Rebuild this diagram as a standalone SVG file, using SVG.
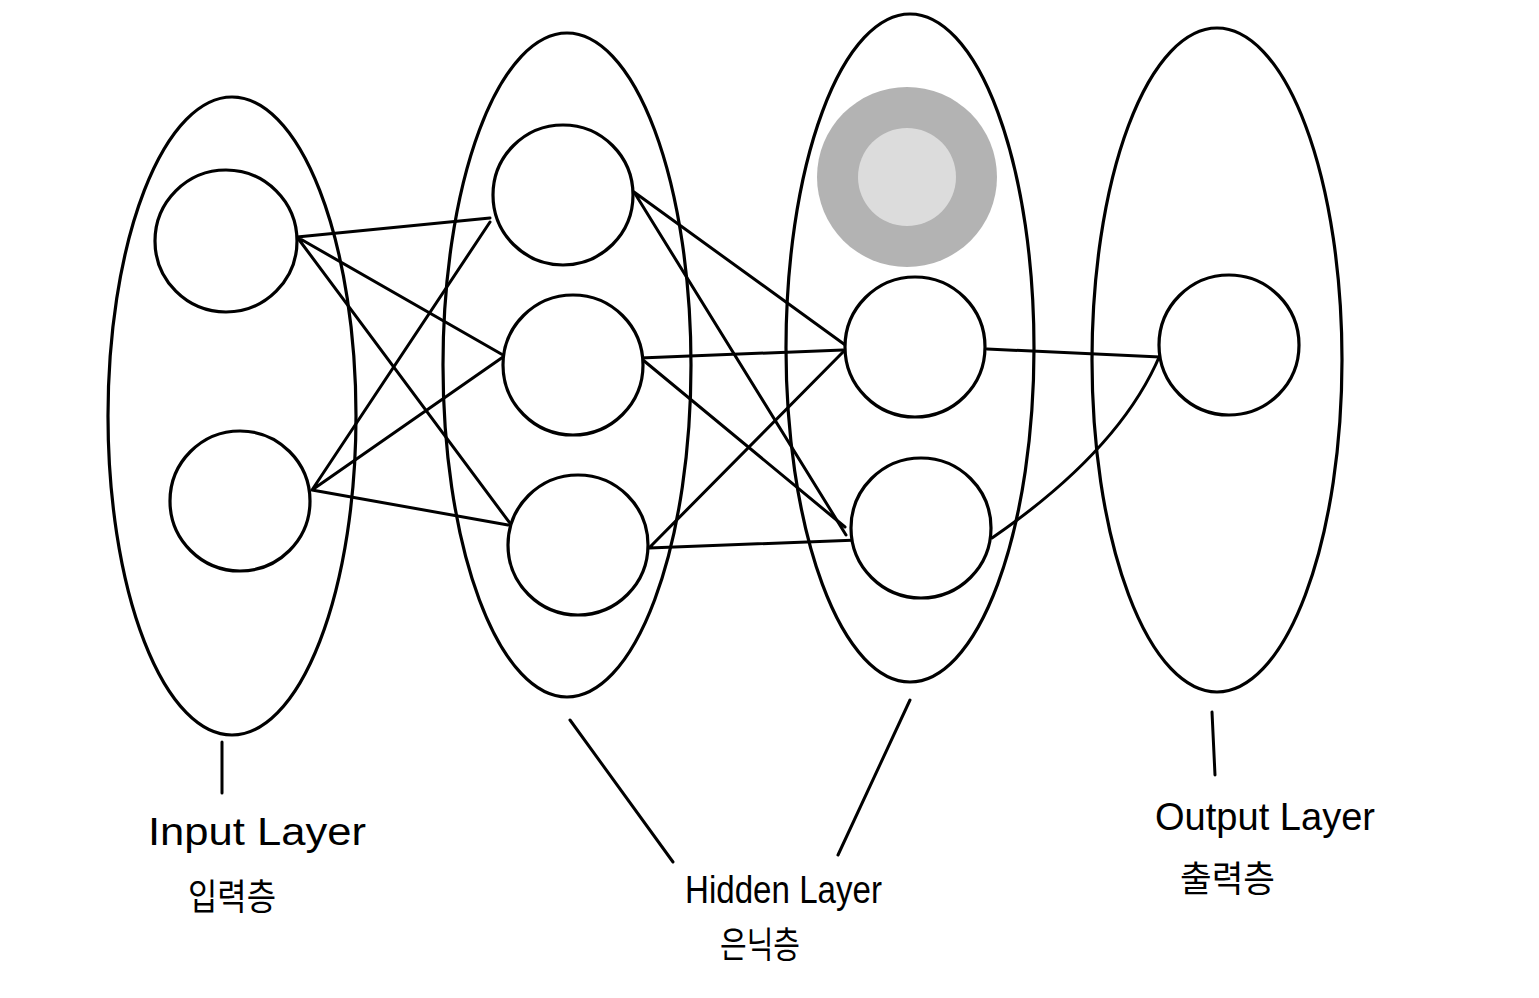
<svg xmlns="http://www.w3.org/2000/svg" width="1539" height="998" viewBox="0 0 1539 998">
<style>
.sh{fill:none;stroke:#000;stroke-width:3.2}
.c{fill:#fff;stroke:#000;stroke-width:3.2}
.ln{fill:none;stroke:#000;stroke-width:3;stroke-linecap:round}
.en{font-family:"Liberation Sans","Noto Sans",sans-serif;font-size:38px;fill:#000}
.ko{font-family:"Noto Sans CJK KR",sans-serif;font-size:36px;fill:#000}
</style>
<rect width="1539" height="998" fill="#fff"/>
<g id="layer-input"><ellipse class="sh" cx="232" cy="416" rx="124" ry="319"/></g>
<g id="layer-hidden1"><ellipse class="sh" cx="567" cy="365" rx="124" ry="332"/></g>
<g id="layer-hidden2"><ellipse class="sh" cx="910" cy="348" rx="124" ry="334"/></g>
<g id="layer-output"><ellipse class="sh" cx="1217" cy="360" rx="125" ry="332"/></g>
<g id="highlight"><circle cx="907" cy="177" r="90" fill="#b3b3b3"/><circle cx="907" cy="177" r="49" fill="#dcdcdc"/></g>
<g id="connectors">
<path class="ln" d="M297 237 L490 218 M297 237 L503 355 M297 237 L515 530"/>
<path class="ln" d="M312 490 L490 222 M312 490 L503 357 M312 490 L508 525"/>
<path class="ln" d="M634 192 L848 347 M634 192 L846 535"/>
<path class="ln" d="M640 358 L843 350 M643 360 L845 527"/>
<path class="ln" d="M649 548 L845 350 M649 548 L858 540"/>
<path class="ln" d="M987 349 L1160 357"/>
<path class="ln" d="M992 538 Q1120 450 1160 355"/>
<path class="ln" d="M222 742 L222 793 M570 720 L673 862 M910 700 L838 855 M1212 712 L1215 775"/>
</g>
<g id="node-i1"><circle class="c" cx="226" cy="241" r="71"/></g>
<g id="node-i2"><circle class="c" cx="240" cy="501" r="70"/></g>
<g id="node-h1a"><circle class="c" cx="563" cy="195" r="70"/></g>
<g id="node-h1b"><circle class="c" cx="573" cy="365" r="70"/></g>
<g id="node-h1c"><circle class="c" cx="578" cy="545" r="70"/></g>
<g id="node-h2a"><circle class="c" cx="915" cy="347" r="70"/></g>
<g id="node-h2b"><circle class="c" cx="921" cy="528" r="70"/></g>
<g id="node-o1"><circle class="c" cx="1229" cy="345" r="70"/></g>
<g id="labels">
<text class="en" x="148" y="845" textLength="218" lengthAdjust="spacingAndGlyphs">Input Layer</text>
<text class="ko" x="188" y="910" textLength="88" lengthAdjust="spacingAndGlyphs">입력층</text>
<text class="en" x="685" y="903" textLength="197" lengthAdjust="spacingAndGlyphs">Hidden Layer</text>
<text class="ko" x="720" y="958" textLength="80" lengthAdjust="spacingAndGlyphs">은닉층</text>
<text class="en" x="1155" y="830" textLength="220" lengthAdjust="spacingAndGlyphs">Output Layer</text>
<text class="ko" x="1180" y="892" textLength="95" lengthAdjust="spacingAndGlyphs">출력층</text>
</g>
</svg>
